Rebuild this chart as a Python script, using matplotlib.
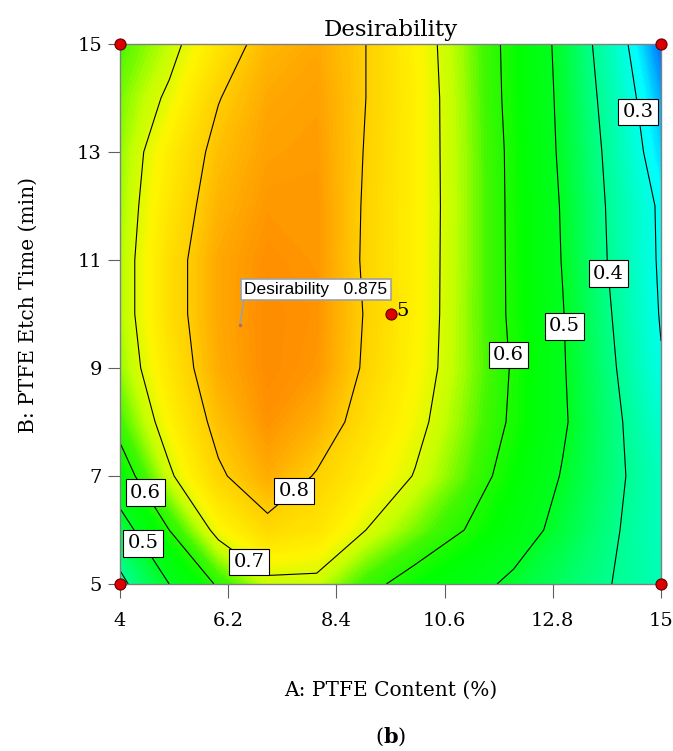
import numpy as np
import matplotlib.pyplot as plt
from matplotlib.colors import LinearSegmentedColormap, Normalize

plt.rcParams['mathtext.fontset'] = 'dejavuserif'

# factor grid (A: PTFE content %, B: PTFE etch time min)
ptfe_content = [4, 5, 6, 7, 8, 9, 10, 11, 12, 13, 14, 15]
etch_time = [5, 6, 7, 8, 9, 10, 11, 12, 13, 14, 15]

# desirability, one row per etch time
desirability = [
    [0.38, 0.50, 0.61, 0.685, 0.685, 0.62, 0.572, 0.53, 0.485, 0.44, 0.40, 0.36],
    [0.46, 0.60, 0.72, 0.78, 0.76, 0.70, 0.65, 0.60, 0.54, 0.475, 0.41, 0.35],
    [0.56, 0.69, 0.79, 0.845, 0.795, 0.745, 0.697, 0.64, 0.57, 0.495, 0.42, 0.35],
    [0.625, 0.73, 0.82, 0.875, 0.84, 0.77, 0.717, 0.656, 0.59, 0.51, 0.42, 0.33],
    [0.66, 0.755, 0.845, 0.885, 0.87, 0.79, 0.73, 0.665, 0.594, 0.506, 0.41, 0.305],
    [0.67, 0.77, 0.85, 0.885, 0.875, 0.795, 0.735, 0.665, 0.588, 0.503, 0.40, 0.295],
    [0.67, 0.77, 0.85, 0.88, 0.87, 0.79, 0.735, 0.666, 0.587, 0.497, 0.39, 0.29],
    [0.665, 0.757, 0.835, 0.87, 0.87, 0.792, 0.735, 0.667, 0.586, 0.494, 0.386, 0.288],
    [0.66, 0.743, 0.82, 0.86, 0.865, 0.796, 0.735, 0.666, 0.585, 0.487, 0.378, 0.257],
    [0.65, 0.71, 0.797, 0.85, 0.86, 0.80, 0.736, 0.664, 0.58, 0.483, 0.365, 0.235],
    [0.63, 0.68, 0.758, 0.83, 0.85, 0.80, 0.732, 0.661, 0.578, 0.478, 0.349, 0.20],
]

contour_levels = [0.3, 0.4, 0.5, 0.6, 0.7, 0.8]

# design points
design_a = [4, 4, 15, 15, 9.5]
design_b = [5, 15, 5, 15, 10]
center_reps = 5

# flag
flag_a, flag_b, flag_value = 6.44, 9.8, 0.875

x_ticks = [4, 6.2, 8.4, 10.6, 12.8, 15]
y_ticks = [5, 7, 9, 11, 13, 15]

serif = 'DejaVu Serif'

# Design-Expert style colour ramp
vmin, vmax = 0.18, 0.89
nodes = [(0.18, '#0040FF'), (0.28, '#00FFFF'), (0.40, '#00FF90'), (0.50, '#00FF20'),
         (0.57, '#00FF00'), (0.63, '#40F800'), (0.68, '#C0FF00'), (0.73, '#FFF500'),
         (0.80, '#FFD000'), (0.85, '#FFAA00'), (0.89, '#FF8800')]
cmap = LinearSegmentedColormap.from_list(
    'de', [((v - vmin) / (vmax - vmin), c) for v, c in nodes])

A, B = np.meshgrid(ptfe_content, etch_time)
D = np.array(desirability)

fig = plt.figure(figsize=(6.73, 7.51), dpi=100)
ax = fig.add_axes([120 / 673, 167 / 751, 541 / 673, 540 / 751])

cf = ax.contourf(A, B, D, levels=np.linspace(0.15, 0.92, 160), cmap=cmap,
                 norm=Normalize(vmin, vmax), extend='both')
cf.set_edgecolor('face')
cf.set_linewidth(0.4)

cs = ax.contour(A, B, D, levels=contour_levels, colors='black', linewidths=0.8)
label_pos = [(14.6, 13.75), (13.96, 10.75), (13.01, 9.77), (11.9, 9.24),
             (4.61, 6.74), (4.56, 5.81), (6.75, 5.57), (7.53, 6.74)]
labels = ax.clabel(cs, manual=label_pos, inline=False, fmt='%.1f', fontsize=14)
for t in labels:
    t.set_rotation(0)
    t.set_fontfamily(serif)
    t.set_zorder(5)
    t.set_bbox(dict(boxstyle='square,pad=0.22', fc='white', ec='black', lw=0.8))

# design points
ax.plot(design_a, design_b, 'o', ms=8, mfc='#DD0000', mec='#600000', mew=0.8,
        clip_on=False, zorder=6)
ax.text(design_a[-1] + 0.12, design_b[-1] + 0.05, str(center_reps), fontsize=14,
        family=serif, va='center', ha='left', zorder=6)

# flag
ax.annotate(f'Desirability   {flag_value}', xy=(flag_a, flag_b), xytext=(3, 20),
            textcoords='offset points', ha='left', va='bottom', fontsize=12.5,
            family='Liberation Sans', zorder=7,
            bbox=dict(boxstyle='square,pad=0.2', fc='white', ec='#A0A0A0', lw=1.2),
            arrowprops=dict(arrowstyle='-', color='#A0A0A0', lw=1.2,
                            shrinkA=0, shrinkB=0, relpos=(0, 0)))
ax.plot([flag_a], [flag_b], '.', ms=3, color='#C06060', zorder=7)

ax.set_xlim(4, 15)
ax.set_ylim(5, 15)
ax.set_xticks(x_ticks)
ax.set_xticklabels(['4', '6.2', '8.4', '10.6', '12.8', '15'])
ax.set_yticks(y_ticks)
for s in ax.spines.values():
    s.set_color('#808080')
    s.set_linewidth(1)
ax.tick_params(axis='x', length=10, pad=10, color='#606060', labelsize=14)
ax.tick_params(axis='y', length=9, pad=4, color='#606060', labelsize=14)
for t in ax.get_xticklabels() + ax.get_yticklabels():
    t.set_fontfamily(serif)

ax.set_title('Desirability', family=serif, fontsize=16.5, pad=6)
fig.text(390.5 / 673, 1 - 690 / 751, 'A: PTFE Content (%)', family=serif,
         fontsize=14.5, ha='center', va='center')
fig.text(28 / 673, 1 - 305 / 751, 'B: PTFE Etch Time (min)', family=serif,
         fontsize=14.5, ha='center', va='center', rotation=90)
fig.text(390.5 / 673, 1 - 737 / 751, r'($\mathbf{b}$)', family=serif, fontsize=15,
         ha='center', va='center')

fig.savefig('out.png', dpi=100)
